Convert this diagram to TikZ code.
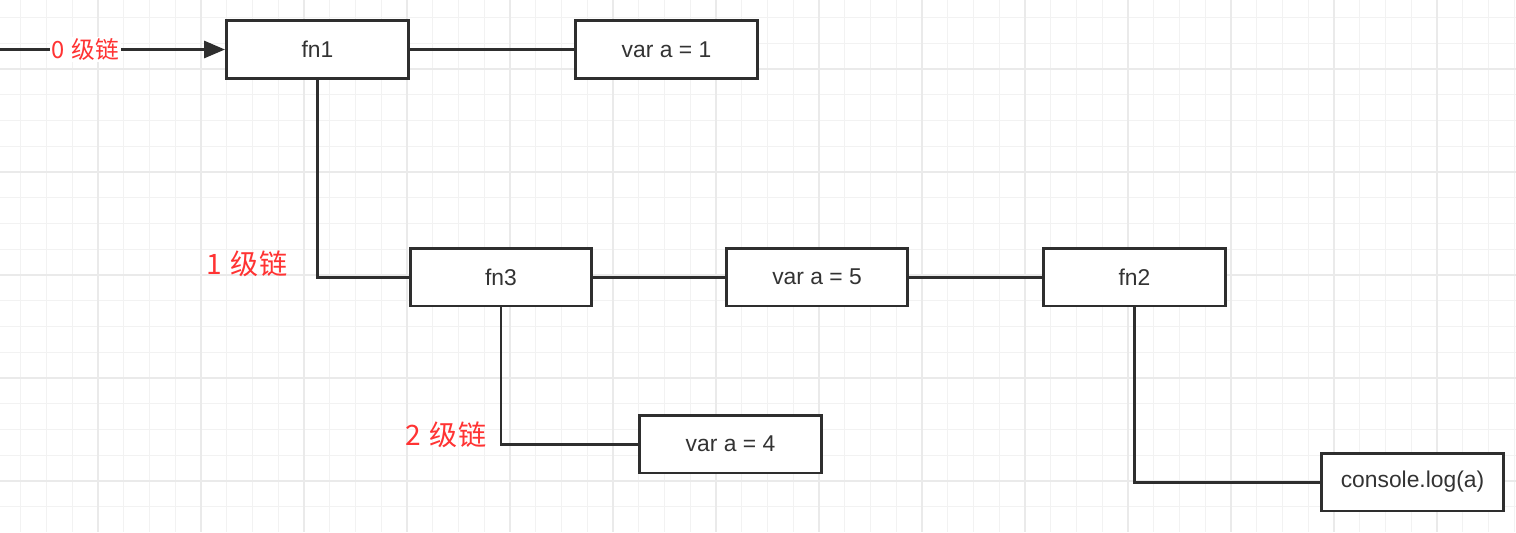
\documentclass[tikz,border=0pt]{standalone}
\usepackage{fontspec}
\setmainfont{Liberation Sans}
\newfontfamily\cjkfont{Noto Sans CJK SC}
\usetikzlibrary{arrows.meta}
\definecolor{gridminor}{HTML}{F2F2F2}
\definecolor{gridmajor}{HTML}{EAEAEA}
\definecolor{chainred}{HTML}{FF3333}
\definecolor{boxline}{HTML}{2E2E2E}
\definecolor{boxtext}{HTML}{333333}
\tikzset{
  block/.style={draw=boxline, line width=1.7pt, fill=white, minimum width=3.64cm,
    minimum height=1.16cm, inner sep=0pt, text=boxtext, font=\fontsize{13}{15}\selectfont},
  link/.style={draw=boxline, line width=1.7pt},
  chainlabel/.style={text=chainred, inner sep=1pt, font=\cjkfont\fontsize{16}{19}\selectfont},
}
\begin{document}
\begin{tikzpicture}[x=0.02cm,y=-0.02cm]
\useasboundingbox[fill=white] (0,0) rectangle (1516,532);
% grid
\foreach \k [evaluate=\k as \gx using 98+25.75*\k] in {-3,...,55}
  \draw[gridminor,line width=0.6pt] (\gx,0) -- (\gx,532);
\foreach \k [evaluate=\k as \gy using 172+25.75*\k] in {-6,...,13}
  \draw[gridminor,line width=0.6pt] (0,\gy) -- (1516,\gy);
\foreach \gx in {98,201,...,1516} \draw[gridmajor,line width=0.6pt] (\gx,0) -- (\gx,532);
\foreach \gy in {69,172,...,532} \draw[gridmajor,line width=0.6pt] (0,\gy) -- (1516,\gy);
% scopes
\node[block] (fn1) at (317.5,49.5) {fn1};
\node[block] (va1) at (666.5,49.5) {var a = 1};
\node[block] (fn3) at (501,277) {fn3};
\node[block] (va5) at (817,277) {var a = 5};
\node[block] (fn2) at (1134.5,277) {fn2};
\node[block] (va4) at (730.5,444) {var a = 4};
\node[block] (log) at (1412.5,482) {console.log(a)};
\coordinate (entry) at (0,49.5);
% chains
\draw[link,-{Triangle[length=0.42cm,width=0.34cm]}] (entry) -- node[pos=0.38,chainlabel,fill=white,font=\cjkfont\fontsize{13.5}{16}\selectfont] (c0) {0\hspace{0.3em}级链} (fn1);
\draw[link] (fn1) -- (va1);
\draw[link] (fn1.south) |- (fn3.west);
\draw[link] (fn3) -- (va5);
\draw[link] (va5) -- (fn2);
\draw[link] (fn3.south) |- (va4.west);
\draw[link] (fn2.south) |- (log.west);
\node[chainlabel] (c1) at (247,264) {1\hspace{0.3em}级链};
\node[chainlabel] (c2) at (446,435) {2\hspace{0.3em}级链};
\end{tikzpicture}
\end{document}
